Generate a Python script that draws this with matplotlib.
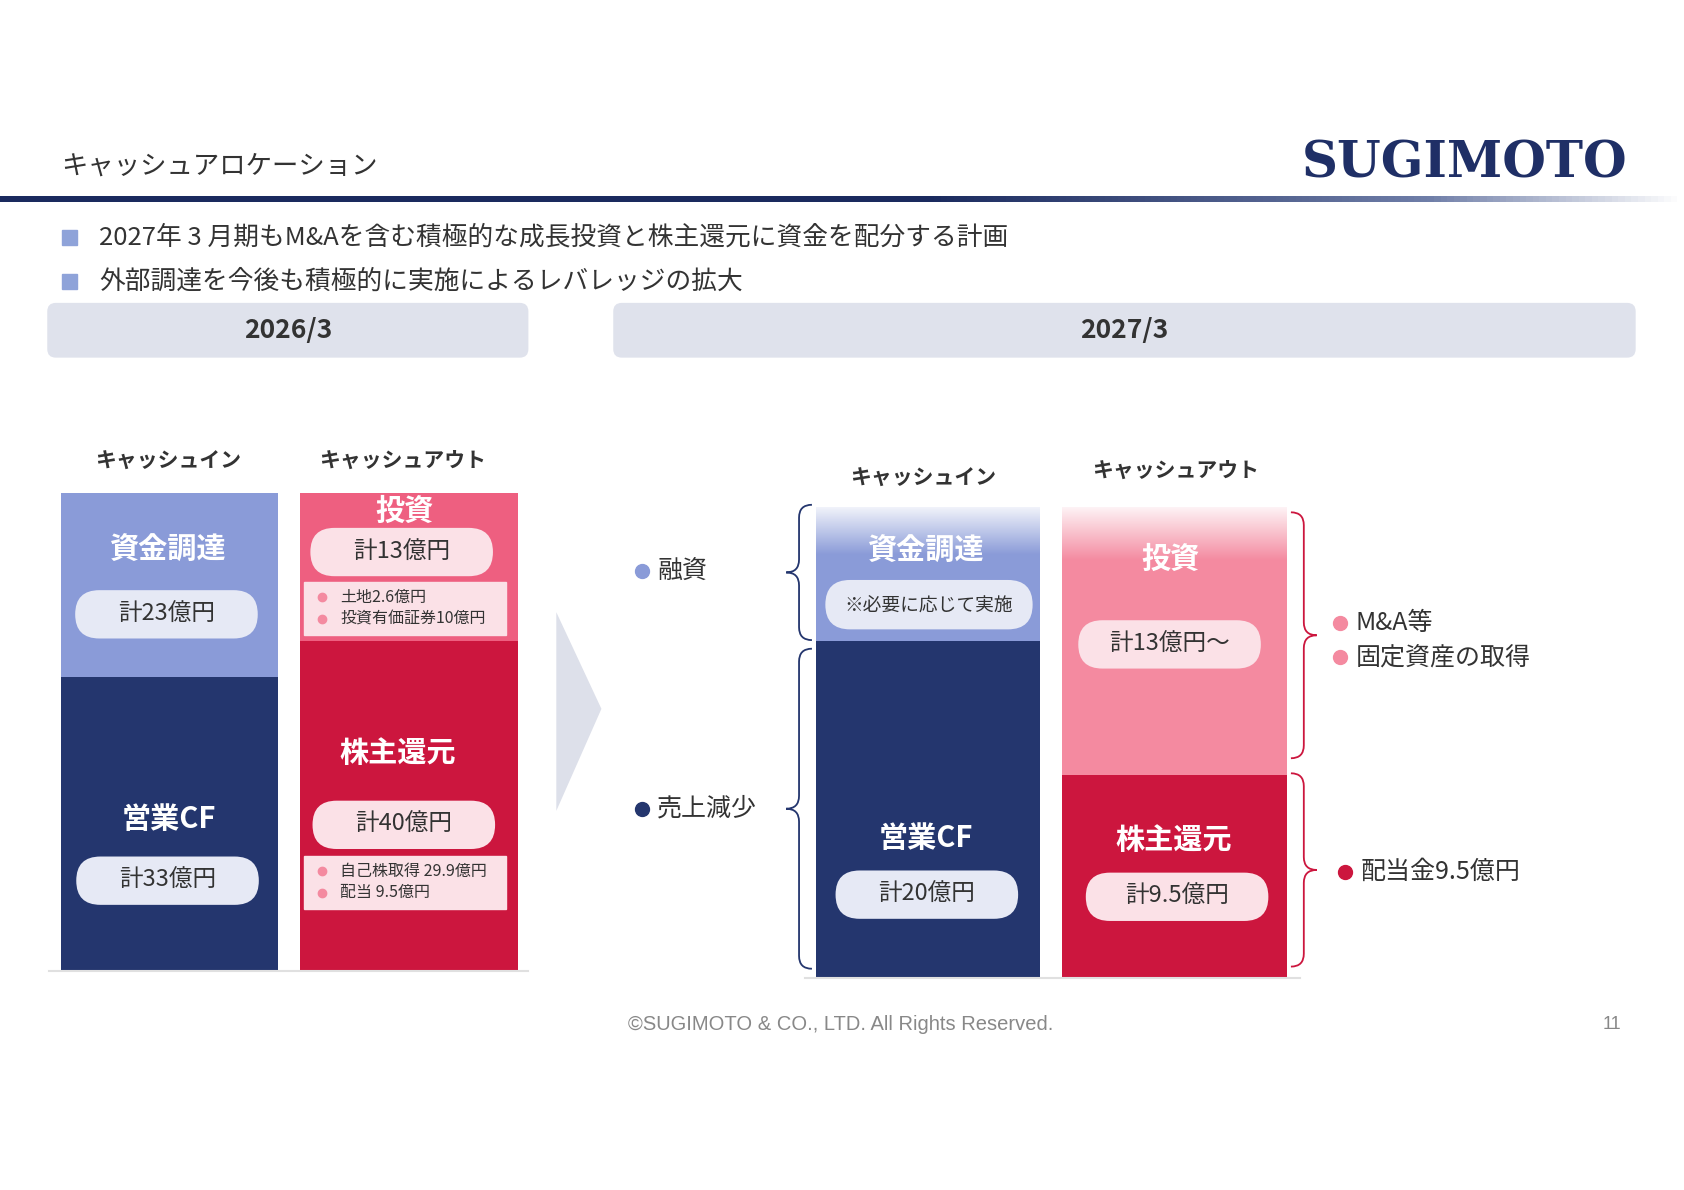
import matplotlib.pyplot as plt
import numpy as np
from matplotlib.patches import FancyBboxPatch, Polygon, PathPatch
from matplotlib.path import Path

plt.rcParams['font.family'] = ['Noto Sans CJK JP', 'DejaVu Sans']

# data
bullets = ["2027年 3 月期もM&Aを含む積極的な成長投資と株主還元に資金を配分する計画",
           "外部調達を今後も積極的に実施によるレバレッジの拡大"]
periods = ["2026/3", "2027/3"]
col_labels = ["キャッシュイン", "キャッシュアウト"]
# segment shares of column height (bottom, top)
left_in_share = [0.615, 0.385]    # 営業CF, 資金調達
left_out_share = [0.69, 0.31]     # 株主還元, 投資
right_in_share = [0.715, 0.285]   # 営業CF, 資金調達
right_out_share = [0.43, 0.57]    # 株主還元, 投資
left_in_names = ["営業CF", "資金調達"]
left_out_names = ["株主還元", "投資"]
left_in_pills = ["計33億円", "計23億円"]
left_out_pills = ["計40億円", "計13億円"]
left_out_notes = [["自己株取得 29.9億円", "配当 9.5億円"], ["土地2.6億円", "投資有価証券10億円"]]
right_in_pills = ["計20億円", "※必要に応じて実施"]
right_out_pills = ["計9.5億円", "計13億円〜"]

NAVY, BLUE, PINK, RED = "#24366e", "#8a9bd8", "#ee5f80", "#cc163e"
LPINK = "#f48aa0"

fig = plt.figure(figsize=(16.84, 11.90), dpi=100)
ax = fig.add_axes([0, 0, 1, 1])
ax.set_xlim(0, 1568)
ax.set_ylim(1108, 0)
ax.axis("off")

# header
ax.text(57, 155, "キャッシュアロケーション", fontsize=19, color="#333", va="center")
ax.text(1515, 153, "SUGIMOTO", fontsize=36, fontweight="bold", family="DejaVu Serif",
        color="#1f2f66", ha="right", va="center")
grad = np.linspace(0, 1, 256)[None, :]
cmap = plt.matplotlib.colors.LinearSegmentedColormap.from_list(
    "g", [(0, "#1a2a5e"), (0.55, "#1a2a5e"), (0.85, "#6f7ea8"), (1, "#ffffff")])
ax.imshow(grad, extent=(0, 1568, 188, 183), aspect="auto", cmap=cmap, zorder=1)
for i, t in enumerate(bullets):
    y = 221 + 41 * i
    ax.add_patch(plt.Rectangle((58, y - 7), 14, 14, color="#8fa3d9"))
    ax.text(92, y, t, fontsize=18.5, color="#333", va="center")

for (x0, x1), p in zip([(44, 492), (571, 1523)], periods):
    ax.add_patch(FancyBboxPatch((x0, 282), x1 - x0, 51, boxstyle="round,pad=0,rounding_size=8",
                                fc="#dfe2ec", ec="none"))
    ax.text((x0 + x1) / 2, 308, p, fontsize=19, fontweight="bold", color="#333",
            ha="center", va="center")


def pill(cx, cy, w, h, text, fc, size=17):
    ax.add_patch(FancyBboxPatch((cx - w / 2, cy - h / 2), w, h,
                                boxstyle=f"round,pad=0,rounding_size={h / 2}",
                                fc=fc, ec="none", zorder=4))
    ax.text(cx, cy, text, fontsize=size, color="#333", ha="center", va="center", zorder=5)


def column(x0, x1, top, bottom, shares, colors):
    H = bottom - top
    center = (x0 + x1) / 2
    b = bottom
    for s, c in zip(shares, colors):
        h = s * H
        ax.bar(center, -h, bottom=b, width=x1 - x0, color=c, zorder=2)
        b -= h


def top_fade(x0, x1, y0, h):
    img = np.ones((64, 1, 4))
    img[..., 3] = np.linspace(0.9, 0, 64)[:, None]
    ax.imshow(img, extent=(x0, x1, y0 + h, y0), aspect="auto", zorder=3)


def label(cx, cy, t, size=21):
    ax.text(cx, cy, t, fontsize=size, fontweight="bold", color="white",
            ha="center", va="center", zorder=5)


# left chart
for cx, t in zip([157, 375], col_labels):
    ax.text(cx, 430, t, fontsize=15, fontweight="bold", color="#333", ha="center", va="center")
column(57, 259, 459, 903, left_in_share, [NAVY, BLUE])
label(157, 763, left_in_names[0]); pill(156, 820, 170, 45, left_in_pills[0], "#e6e9f5")
label(157, 512, left_in_names[1]); pill(155, 572, 170, 45, left_in_pills[1], "#e6e9f5")
column(279, 482, 459, 903, left_out_share, [RED, PINK])
label(370, 701, left_out_names[0]); pill(376, 768, 170, 45, left_out_pills[0], "#fbe1e7")
label(377, 476, left_out_names[1]); pill(374, 514, 170, 45, left_out_pills[1], "#fbe1e7")
for ytop, notes in zip([797, 542], left_out_notes):
    ax.add_patch(plt.Rectangle((283, ytop), 188, 49, color="#fbe1e7", zorder=4))
    for j, n in enumerate(notes):
        yy = ytop + 14 + 20 * j
        ax.plot(300, yy, "o", ms=6, color=LPINK, zorder=5)
        ax.text(317, yy, n, fontsize=11.5, color="#333", va="center", zorder=5)
ax.plot([46, 492], [904, 904], color="#e0e0e0", lw=1.5)

# arrow
ax.add_patch(Polygon([(518, 570), (560, 660), (518, 755)], color="#dde0ea", ec="none"))

# right chart
for cx, cy, t in zip([860, 1095], [445, 439], col_labels):
    ax.text(cx, cy, t, fontsize=15, fontweight="bold", color="#333", ha="center", va="center")
column(760, 968, 472, 910, right_in_share, [NAVY, BLUE])
top_fade(760, 968, 472, 45)
label(862, 513, "資金調達"); pill(865, 563, 193, 46, right_in_pills[1], "#e6e9f5", size=13.5)
label(862, 780, "営業CF"); pill(863, 833, 170, 45, right_in_pills[0], "#e6e9f5")
column(989, 1198, 472, 910, right_out_share, [RED, LPINK])
top_fade(989, 1198, 472, 50)
label(1090, 520, "投資"); pill(1089, 600, 170, 45, right_out_pills[1], "#fbe1e7")
label(1093, 782, "株主還元"); pill(1096, 835, 170, 45, right_out_pills[0], "#fbe1e7")
ax.plot([750, 1210], [911, 911], color="#e0e0e0", lw=1.5)


def brace(x, y0, y1, direction, color):
    d = 12 * direction
    ym = (y0 + y1) / 2
    verts = [(x + d, y0), (x, y0), (x, y0 + 12), (x, ym - 12), (x, ym), (x - d, ym),
             (x, ym), (x, ym + 12), (x, y1 - 12), (x, y1), (x + d, y1)]
    codes = [Path.MOVETO, Path.CURVE3, Path.CURVE3, Path.LINETO, Path.CURVE3, Path.CURVE3,
             Path.CURVE3, Path.CURVE3, Path.LINETO, Path.CURVE3, Path.CURVE3]
    ax.add_patch(PathPatch(Path(verts, codes), fc="none", ec=color, lw=1.3))


brace(744, 470, 596, 1, NAVY)
brace(744, 604, 902, 1, NAVY)
brace(1214, 477, 706, -1, RED)
brace(1214, 720, 900, -1, RED)

for y, t, c in [(532, "融資", BLUE), (753, "売上減少", NAVY)]:
    ax.plot(598, y, "o", ms=10, color=c)
    ax.text(612, y, t, fontsize=18, color="#333", va="center")
for y, t, c in [(580, "M&A等", LPINK), (612, "固定資産の取得", LPINK)]:
    ax.plot(1248, y, "o", ms=10, color=c)
    ax.text(1262, y, t, fontsize=18, color="#333", va="center")
ax.plot(1252, 812, "o", ms=10, color=RED)
ax.text(1267, 812, "配当金9.5億円", fontsize=18, color="#333", va="center")

# footer
ax.text(783, 954, "©SUGIMOTO & CO., LTD. All Rights Reserved.", fontsize=14.5, color="#888",
        ha="center", va="center", family="Liberation Sans")
ax.text(1510, 954, "11", fontsize=13, color="#888", ha="right", va="center", family="Liberation Sans")

fig.savefig("out.png", dpi=100)
